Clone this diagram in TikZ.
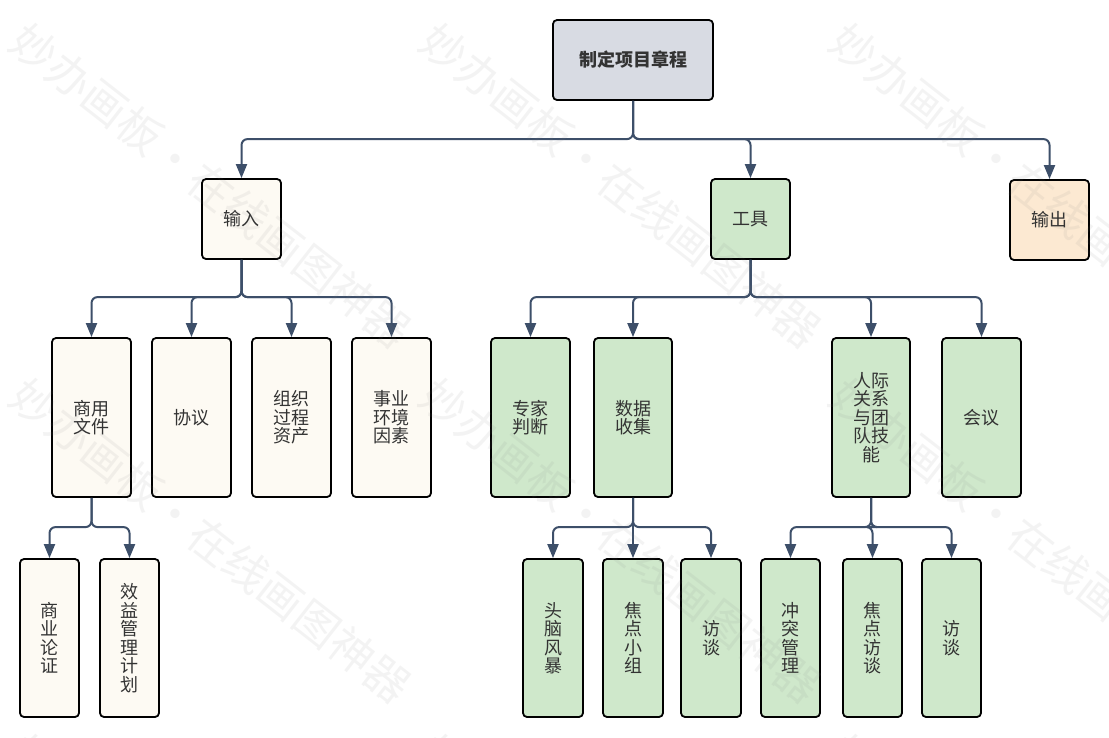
\documentclass[tikz,border=0pt]{standalone}
\usepackage{fontspec}
\setmainfont{Noto Sans CJK SC}
\usepackage{tikz}
\usetikzlibrary{arrows.meta}
\definecolor{linkblue}{HTML}{3D4F69}
\definecolor{rootfill}{HTML}{D8DBE3}
\definecolor{inputfill}{HTML}{FDFAF3}
\definecolor{toolfill}{HTML}{CFE8CB}
\definecolor{outputfill}{HTML}{FCE9D2}
\definecolor{labeltext}{HTML}{333333}
\tikzset{
  box/.style={draw=black,line width=1.8pt,rounded corners=4pt,inner sep=0pt,align=center,
    font=\fontsize{18}{18.5}\selectfont,text=labeltext},
  link/.style={draw=linkblue,line width=2pt,rounded corners=6pt,-{Triangle[length=14pt,width=11pt]}},
  wmark/.style={text=gray,opacity=.09,rotate=-38,font=\fontsize{44.5}{46}\selectfont,inner sep=0pt},
}
\newcommand{\boxat}[7]{%
  \node[box,fill=#6,minimum width=#4pt,minimum height=#5pt] (#1) at (#2,#3) {#7};}
\begin{document}
\begin{tikzpicture}[x=1pt,y=-1pt]
  \useasboundingbox (0,0) rectangle (1109,737);
  \fill[white] (0,0) rectangle (1109,737);
  % top levels
  \boxat{root}{633}{60}{160}{80}{rootfill}{\textbf{制定项目章程}}
  \boxat{input}{241.5}{219}{79}{80}{inputfill}{输入}
  \boxat{tools}{750.5}{219}{79}{80}{toolfill}{工具}
  \boxat{output}{1049.5}{220}{79}{80}{outputfill}{输出}
  % inputs
  \boxat{business}{91.5}{417.5}{79}{159}{inputfill}{商用\\文件}
  \boxat{agreement}{191.5}{417.5}{79}{159}{inputfill}{协议}
  \boxat{assets}{291.5}{417.5}{79}{159}{inputfill}{组织\\过程\\资产}
  \boxat{factors}{391.5}{417.5}{79}{159}{inputfill}{事业\\环境\\因素}
  % tools
  \boxat{expert}{530.5}{417.5}{79}{159}{toolfill}{专家\\判断}
  \boxat{data}{633}{417.5}{78}{159}{toolfill}{数据\\收集}
  \boxat{people}{871}{417.5}{78}{159}{toolfill}{人际\\关系\\与团\\队技\\能}
  \boxat{meeting}{981.5}{417.5}{79}{159}{toolfill}{会议}
  % leaves
  \boxat{case}{49.5}{638}{59}{158}{inputfill}{商\\业\\论\\证}
  \boxat{benefit}{129.5}{638}{59}{158}{inputfill}{效\\益\\管\\理\\计\\划}
  \boxat{brain}{553}{638}{60}{158}{toolfill}{头\\脑\\风\\暴}
  \boxat{focus}{633}{638}{60}{158}{toolfill}{焦\\点\\小\\组}
  \boxat{talk}{711}{638}{60}{158}{toolfill}{访\\谈}
  \boxat{conflict}{790.5}{638}{59}{158}{toolfill}{冲\\突\\管\\理}
  \boxat{focustalk}{872.5}{638}{59}{158}{toolfill}{焦\\点\\访\\谈}
  \boxat{talkb}{951.5}{638}{59}{158}{toolfill}{访\\谈}
  % connectors
  \foreach \from/\to/\gap in {root/input/39,root/tools/39,root/output/40,
      input/business/40,input/agreement/40,input/assets/40,input/factors/40,
      tools/expert/40,tools/data/40,tools/people/40,tools/meeting/40,
      business/case/31,business/benefit/31,
      data/brain/31,data/focus/31,data/talk/31,
      people/conflict/31,people/focustalk/31,people/talkb/31}
    \draw[link] (\from.south) |- ([yshift=\gap pt]\to.north) -- (\to.north);
  % watermark
  \begin{scope}
    \clip (0,0) rectangle (1109,737);
    \foreach \col in {0,1,2}
      \foreach \row in {0,1,2}
        \node[wmark] (wm\col\row) at (211+410*\col,186+355*\row) {\spaceskip=1pt 妙办画板 · 在线画图神器};
  \end{scope}
\end{tikzpicture}
\end{document}
